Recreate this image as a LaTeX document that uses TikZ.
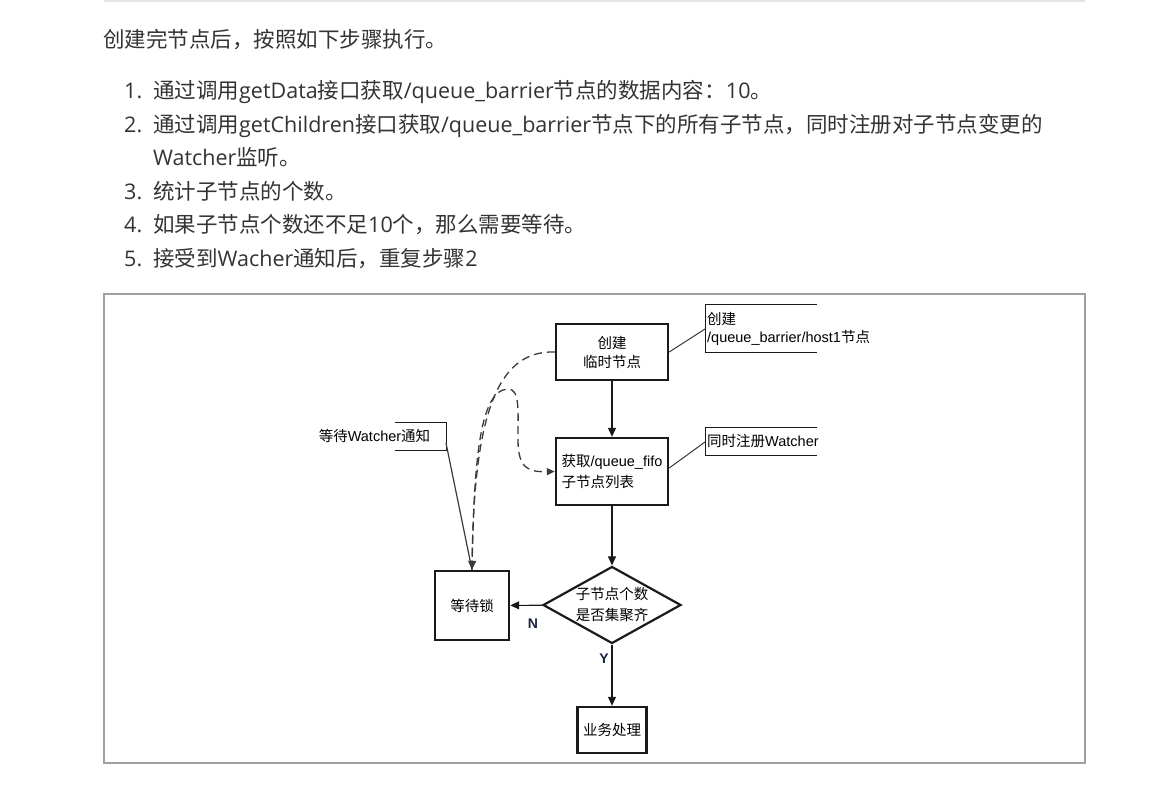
\documentclass[tikz,border=0pt]{standalone}
\usepackage{fontspec}
\setmainfont{Open Sans}
\newfontfamily\cjk{Noto Sans CJK SC}
\newfontfamily\dfont{Liberation Sans}
\usetikzlibrary{arrows.meta,shapes.geometric}
\newcommand\Z[1]{{\cjk #1}}
\definecolor{txt}{HTML}{333333}
\definecolor{boxc}{HTML}{1A1A1A}
\definecolor{framec}{HTML}{A0A0A0}
\definecolor{topc}{HTML}{E4E4E4}
\definecolor{navc}{HTML}{1C2340}
\definecolor{linec}{HTML}{3A3A3A}
\begin{document}
\begin{tikzpicture}[x=1pt,y=-1pt,
  body/.style={anchor=base west, inner sep=0, text=txt, font=\fontsize{21.5}{33.5}\selectfont},
  box/.style={draw=boxc, line width=2.4pt, rectangle, inner sep=2pt, font=\dfont\fontsize{14.5}{19}\selectfont, align=center},
  dnote/.style={font=\dfont\fontsize{14.5}{18}\selectfont, inner sep=0, align=left},
  flow/.style={line width=1.1pt, draw=boxc, -{Triangle[length=9pt,width=8pt]}},
  bracket/.style={line width=1pt, draw=boxc},
  thinline/.style={line width=1pt, draw=linec},
  dline/.style={line width=1.3pt, draw=linec, dash pattern=on 8pt off 5pt},
  yn/.style={font=\dfont\bfseries\fontsize{14}{16}\selectfont, text=navc, inner sep=0}
]
\useasboundingbox (0,0) rectangle (1156,794);

% top rule and frame
\draw[topc, line width=2pt] (104,1) -- (1085,1);
\draw[framec, line width=1.6pt] (104,294) rectangle (1085,763);

% body text
\node[body] (t0) at (103,48) {\Z{创建完节点后，按照如下步骤执行。}};
\node[body] (n1) at (124,99) {1.};
\node[body] (l1) at (153,99) {\Z{通过调用}getData\Z{接口获取}/queue\_barrier\Z{节点的数据内容：}10\Z{。}};
\node[body] (n2) at (124,132.5) {2.};
\node[body] (l2) at (153,132.5) {\Z{通过调用}getChildren\Z{接口获取}/queue\_barrier\Z{节点下的所有子节点，同时注册对子节点变更的}};
\node[body] (l2b) at (153,166) {Watcher\Z{监听。}};
\node[body] (n3) at (124,199.5) {3.};
\node[body] (l3) at (153,199.5) {\Z{统计子节点的个数。}};
\node[body] (n4) at (124,233) {4.};
\node[body] (l4) at (153,233) {\Z{如果子节点个数还不足}10\Z{个，那么需要等待。}};
\node[body] (n5) at (124,266.5) {5.};
\node[body] (l5) at (153,266.5) {\Z{接受到}Wacher\Z{通知后，重复步骤}2};

% flow nodes
\node[box, minimum width=112, minimum height=56] (create) at (612,352) {\Z{创建}\\\Z{临时节点}};
\node[box, minimum width=112, minimum height=67, align=left, font=\dfont\fontsize{14.5}{21}\selectfont] (fifo) at (612,471.5) {\Z{获取}/queue\_fifo\\\Z{子节点列表}};
\node[diamond, draw=boxc, line width=2.2pt, minimum width=138, minimum height=77, inner sep=0, aspect=1.8, align=center, font=\dfont\fontsize{14.5}{21}\selectfont] (dec) at (612,605) {\Z{子节点个数}\\\Z{是否集聚齐}};
\node[box, minimum width=74, minimum height=69] (lock) at (472,605.5) {\Z{等待锁}};
\node[box, minimum width=69, minimum height=46] (biz) at (612,730) {\Z{业务处理}};

% flow arrows
\draw[flow] (create) -- (fifo);
\draw[flow] (fifo) -- (dec);
\draw[flow] (dec) -- (lock);
\draw[flow] (dec) -- (biz);
\node[yn] (lblN) at (533,624) {N};
\node[yn] (lblY) at (604,659) {Y};

% callout 1
\draw[bracket] (817,304) -- (705,304) -- (705,352) -- (817,352);
\node[dnote, anchor=west] (c1) at (707,329) {\Z{创建}\\/queue\_barrier/host1\Z{节点}};
\coordinate (c1p) at (705,329);
\draw[thinline] (create.east) -- (c1p);

% callout 2
\draw[bracket] (817,427) -- (705,427) -- (705,455) -- (817,455);
\node[dnote, anchor=west] (c2) at (707,441) {\Z{同时注册}Watcher};
\coordinate (c2p) at (705,442);
\draw[thinline] ([yshift=3.5pt]fifo.east) -- (c2p);

% callout 3
\draw[bracket] (395,422) -- (446,422) -- (446,450) -- (395,450);
\node[dnote, anchor=center] (c3) at (374.5,436) {\Z{等待}Watcher\Z{通知}};
\coordinate (c3p) at (446,443);
\draw[thinline, line width=1.2pt] (c3p) -- (lock.north);

% dashed curves
\draw[dline, -{Triangle[length=9pt,width=8pt]}] (create.west) .. controls (495,350) and (474,420) .. (lock.north);
\draw[dline, -{Triangle[length=8pt,width=7pt]}] (lock.north) .. controls (474,470) and (478,390) .. (508,389)
  .. controls (520,389) and (518,410) .. (518,440) .. controls (518,470) and (530,472) .. (fifo.west);
\end{tikzpicture}
\end{document}
